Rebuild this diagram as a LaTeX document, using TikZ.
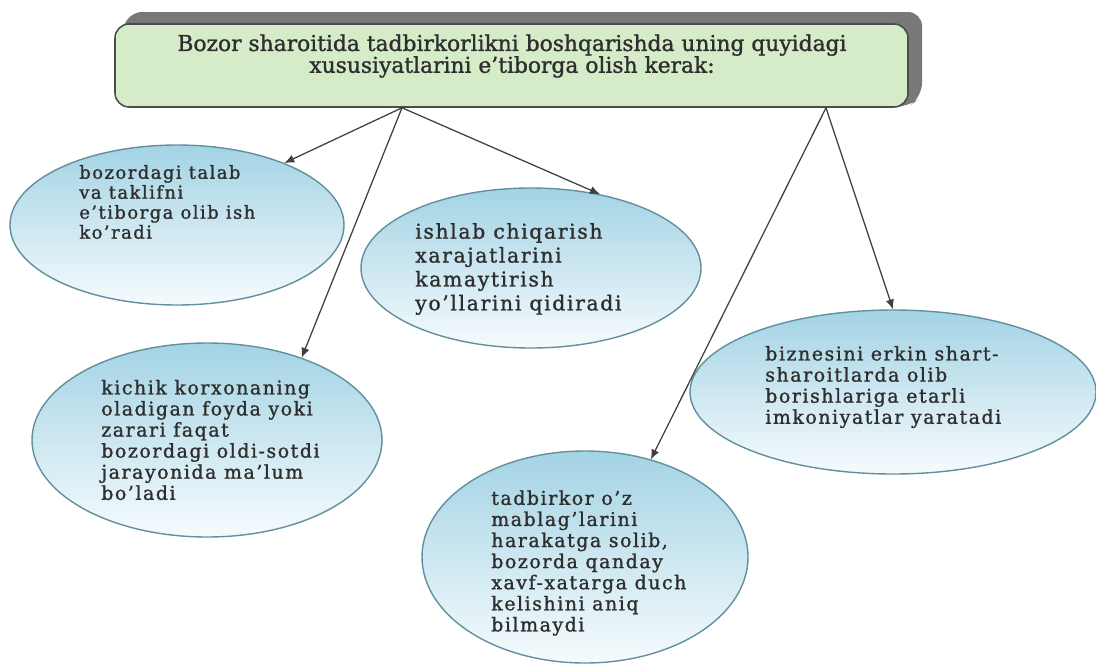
\documentclass[tikz,border=0pt]{standalone}
\usepackage{fontspec}
\setmainfont{DejaVu Serif}
\newfontfamily\ovalfont{DejaVu Serif}[Ligatures=TeX, FakeBold=1.2, LetterSpace=8]
\newfontfamily\headfont{DejaVu Serif}[Ligatures=TeX, FakeBold=1.2]
\usetikzlibrary{shapes.geometric,arrows.meta}
\definecolor{boxgreen}{HTML}{D6EBC8}
\definecolor{boxback}{HTML}{787878}
\definecolor{ovaltop}{HTML}{A3D3E4}
\definecolor{ovalbottom}{HTML}{F6FBFD}
\definecolor{ovalline}{HTML}{62909E}
\definecolor{textgray}{HTML}{2E2E2E}
\def\px{0.025cm}

\begin{document}
\begin{tikzpicture}[x=\px,y=-\px,
    oval/.style={ellipse, draw=ovalline, line width=1pt, top color=ovaltop, bottom color=ovalbottom, inner sep=0pt},
    ovaltext/.style={anchor=west, align=left, inner sep=0pt, text=textgray, font=\ovalfont\fontsize{13.5}{15}\selectfont},
    link/.style={-{Latex[length=7pt,width=6pt]}, draw=black!75, line width=0.9pt}]
  \useasboundingbox (0,0) rectangle (1096,666);

  % Heading box with its grey back
  \fill[boxback, rounded corners=10pt] (115,60) -- (128,12) -- (922,12) -- (922,97) -- (908,107) -- (115,107) -- cycle;
  \node[draw=black!70, line width=1.1pt, fill=boxgreen, rounded corners=10pt,
        minimum width=793*\px, minimum height=83*\px, inner sep=0pt] (head) at (511.5,65.5) {};
  \node[align=center, inner sep=0pt, text=textgray, font=\headfont\fontsize{15.5}{15.5}\selectfont] (headtext) at (512,56)
    {Bozor sharoitida tadbirkorlikni boshqarishda uning quyidagi\\xususiyatlarini e'tiborga olish kerak:};

  % Ovals
  \node[oval, minimum width=334*\px, minimum height=160*\px] (e1) at (177,225) {};
  \node[oval, minimum width=340*\px, minimum height=160*\px] (e2) at (531,268) {};
  \node[oval, minimum width=350*\px, minimum height=194*\px] (e3) at (207,440) {};
  \node[oval, minimum width=406*\px, minimum height=164*\px] (e4) at (893,392) {};
  \node[oval, minimum width=326*\px, minimum height=212*\px] (e5) at (585,557) {};

  % Oval texts
  \node[ovaltext, font=\ovalfont\fontsize{12.8}{14.2}\selectfont] (t1) at (79,202)
    {bozordagi talab\\va taklifni\\e'tiborga olib ish\\ko'radi};
  \node[ovaltext, font=\ovalfont\fontsize{14.5}{17}\selectfont] (t2) at (415,269)
    {ishlab chiqarish\\xarajatlarini\\kamaytirish\\yo'llarini qidiradi};
  \node[ovaltext] (t3) at (101,440)
    {kichik korxonaning\\oladigan foyda yoki\\zarari faqat\\bozordagi oldi-sotdi\\jarayonida ma'lum\\bo'ladi};
  \node[ovaltext] (t4) at (765,387)
    {biznesini erkin shart-\\sharoitlarda olib\\borishlariga etarli\\imkoniyatlar yaratadi};
  \node[ovaltext] (t5) at (491,563)
    {tadbirkor o'z\\mablag'larini\\harakatga solib,\\bozorda qanday\\xavf-xatarga duch\\kelishini aniq\\bilmaydi};

  % Arrows
  \draw[link] ([xshift=-109.5*\px]head.south) -- (e1.30);
  \draw[link] ([xshift=-109.5*\px]head.south) -- (e2.47);
  \draw[link] ([xshift=-109.5*\px]head.south) -- (e3.41);
  \draw[link] ([xshift=314.5*\px]head.south) -- (e4.90);
  \draw[link] ([xshift=314.5*\px]head.south) -- (e5.56);
\end{tikzpicture}
\end{document}
